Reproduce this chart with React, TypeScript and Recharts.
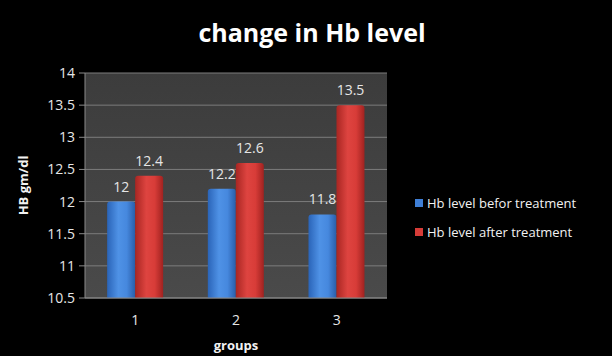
import React from 'react';
import {
  BarChart,
  Bar,
  XAxis,
  YAxis,
  CartesianGrid,
  LabelList,
} from 'recharts';

const groups = ['1', '2', '3'];
const beforeTreatment = [12, 12.2, 11.8];
const afterTreatment = [12.4, 12.6, 13.5];
const yTicks = [10.5, 11, 11.5, 12, 12.5, 13, 13.5, 14];

const data = groups.map((g, i) => ({
  group: g,
  before: beforeTreatment[i],
  after: afterTreatment[i],
}));

const FONT = '"Open Sans", "Noto Sans", sans-serif';
const TEXT = '#e6e6e6';

const legendItems = [
  { label: 'Hb level befor treatment', color: '#3f7fd6' },
  { label: 'Hb level after treatment', color: '#d63c38' },
];

// legend sits to the right of the plot, outside the chart's layout
function LegendBox() {
  return (
    <div
      style={{
        position: 'absolute',
        left: 415,
        top: 188,
        fontFamily: FONT,
        fontSize: 13,
        color: '#f2f2f2',
      }}
    >
      {legendItems.map((it) => (
        <div key={it.label} style={{ display: 'flex', alignItems: 'center', height: 29 }}>
          <span style={{ width: 8, height: 8, background: it.color, marginRight: 4, display: 'inline-block' }} />
          {it.label}
        </div>
      ))}
    </div>
  );
}

export default function App() {
  return (
    <div
      style={{
        position: 'absolute',
        left: 0,
        top: 0,
        width: 612,
        height: 356,
        background: '#000',
        fontFamily: FONT,
      }}
    >
      <div
        style={{
          position: 'absolute',
          top: 15,
          width: 624,
          textAlign: 'center',
          color: '#fff',
          fontWeight: 700,
          fontSize: 25,
          zIndex: 1,
        }}
      >
        change in Hb level
      </div>
      <BarChart
        width={612}
        height={356}
        data={data}
        margin={{ top: 73, right: 225, left: 25, bottom: 2 }}
        barCategoryGap="22%"
        barGap={0}
      >
        <defs>
          <linearGradient id="plotBg" x1="0" y1="0" x2="0" y2="1">
            <stop offset="0%" stopColor="#3c3c3c" />
            <stop offset="100%" stopColor="#4a4a4a" />
          </linearGradient>
          <linearGradient id="blueBar" x1="0" y1="0" x2="1" y2="0">
            <stop offset="0%" stopColor="#2a64b8" />
            <stop offset="40%" stopColor="#4f92e6" />
            <stop offset="70%" stopColor="#4688de" />
            <stop offset="100%" stopColor="#2a5ea8" />
          </linearGradient>
          <linearGradient id="redBar" x1="0" y1="0" x2="1" y2="0">
            <stop offset="0%" stopColor="#a82622" />
            <stop offset="40%" stopColor="#de4440" />
            <stop offset="70%" stopColor="#d83c38" />
            <stop offset="100%" stopColor="#a02220" />
          </linearGradient>
        </defs>
        <CartesianGrid vertical={false} stroke="#7c7c7c" fill="url(#plotBg)" />
        <XAxis
          dataKey="group"
          height={56}
          tick={{ fill: TEXT, fontSize: 14, fontFamily: FONT }}
          tickLine={false}
          axisLine={{ stroke: '#8a8a8a' }}
          tickMargin={11}
          label={{
            value: 'groups',
            position: 'insideBottom',
            offset: 4,
            fill: '#f2f2f2',
            fontSize: 13,
            fontWeight: 700,
            fontFamily: FONT,
          }}
        />
        <YAxis
          domain={[10.5, 14]}
          ticks={yTicks}
          interval={0}
          allowDataOverflow
          width={60}
          tick={{ fill: TEXT, fontSize: 14, fontFamily: FONT }}
          tickLine={{ stroke: '#8a8a8a' }}
          axisLine={{ stroke: '#8a8a8a' }}
          tickMargin={4}
          label={{
            value: 'HB gm/dl',
            angle: -90,
            position: 'insideLeft',
            offset: -2,
            fill: '#f2f2f2',
            fontSize: 13,
            fontWeight: 700,
            fontFamily: FONT,
            style: { textAnchor: 'middle' },
          }}
        />
        <Bar dataKey="before" fill="url(#blueBar)" isAnimationActive={false} radius={[3, 3, 0, 0]}>
          <LabelList dataKey="before" position="top" offset={10} fill={TEXT} fontSize={14} fontFamily={FONT} />
        </Bar>
        <Bar dataKey="after" fill="url(#redBar)" isAnimationActive={false} radius={[3, 3, 0, 0]}>
          <LabelList dataKey="after" position="top" offset={10} fill={TEXT} fontSize={14} fontFamily={FONT} />
        </Bar>
      </BarChart>
      <LegendBox />
    </div>
  );
}
